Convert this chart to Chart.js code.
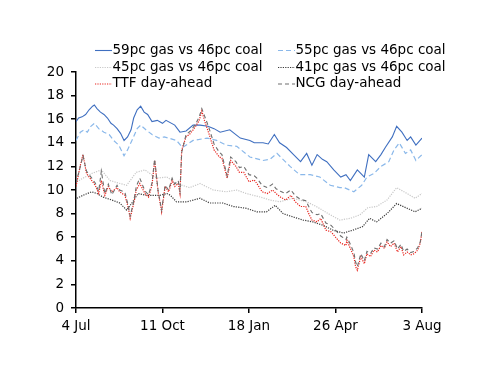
<!DOCTYPE html>
<html>
<head>
<meta charset="utf-8">
<script src="https://cdn.jsdelivr.net/npm/chart.js@4/dist/chart.umd.min.js"></script>
<style>
  html, body { margin: 0; padding: 0; background: #fff; }
  #wrap { position: relative; width: 500px; height: 386px; }
</style>
</head>
<body>
<div id="wrap"><canvas id="c" width="500" height="386"></canvas></div>
<script>
// x values are days since 4 Jul
const tickLabels = ["4 Jul", "11 Oct", "18 Jan", "26 Apr", "3 Aug"];
const seriesNames = ["59pc gas vs 46pc coal", "55pc gas vs 46pc coal", "45pc gas vs 46pc coal", "41pc gas vs 46pc coal", "TTF day-ahead", "NCG day-ahead"];

const days59 = [0,3,7,11,15,19,21,24,28,32,36,40,43,47,51,55,59,63,66,70,74,78,82,87,93,99,103,113,119,126,134,142,151,158,165,176,188,199,204,214,220,227,233,241,249,257,264,270,276,282,287,295,303,309,314,322,330,335,343,349,354,362,367,373,379,383,389,396];
const gas59 =  [15.8,16.1,16.2,16.4,16.8,17.1,17.2,16.9,16.6,16.4,16.1,15.65,15.5,15.2,14.8,14.2,14.5,15.1,16.1,16.8,17.1,16.6,16.4,15.8,15.9,15.65,15.9,15.5,14.9,15.0,15.5,15.5,15.4,15.2,14.9,15.1,14.4,14.2,14.0,14.0,13.9,14.7,14.0,13.6,13.0,12.4,13.1,12.1,13.0,12.6,12.4,11.7,11.1,11.3,10.8,11.7,11.1,13.0,12.4,13.0,13.6,14.5,15.4,14.9,14.2,14.5,13.8,14.4];

const days55 = [0,5,9,13,17,21,26,32,38,43,49,55,59,64,70,74,80,87,95,101,115,122,134,150,161,172,184,199,214,222,230,241,245,256,268,279,291,302,307,318,327,333,341,349,358,364,370,377,383,389,396];
const gas55 =  [14.2,14.9,15.1,14.9,15.4,15.65,15.2,14.9,14.7,14.2,13.8,12.9,13.4,14.2,15.2,15.5,15.1,14.7,14.4,14.5,14.2,13.6,14.2,14.4,14.2,13.8,13.7,12.8,12.5,12.6,13.1,12.3,12.0,11.3,11.3,11.1,10.4,10.2,10.2,9.85,10.4,11.1,11.4,12.0,12.4,13.4,14.0,13.1,13.4,12.5,13.0];

const days45 = [1,8,18,29,39,48,58,69,79,92,104,115,130,142,157,172,184,195,211,222,233,248,264,275,291,302,314,325,334,344,356,367,379,388,396];
const gas45 =  [10.7,11.0,11.4,11.7,10.8,10.6,10.4,11.5,11.7,11.0,11.1,10.55,10.2,10.55,10.0,9.85,10.0,9.7,9.4,9.15,9.0,9.3,9.0,8.6,7.9,7.45,7.6,7.9,8.5,8.6,9.15,10.2,9.7,9.3,9.7];

const days41 = [1,8,18,24,31,41,50,58,65,71,81,96,104,108,115,127,142,153,168,180,195,207,218,228,237,245,260,271,283,294,306,317,328,336,344,356,367,379,388,396];
const gas41 =  [9.3,9.55,9.85,9.7,9.4,9.15,8.9,8.3,9.0,9.7,9.55,9.55,9.7,9.55,9.0,9.0,9.3,8.9,8.9,8.6,8.45,8.15,8.15,8.7,8.0,7.8,7.45,7.3,7.0,6.6,6.35,6.6,6.9,7.6,7.3,8.0,8.85,8.45,8.15,8.45];

const daysHub = [0,5,8,12,18,22,26,29,33,37,41,47,50,56,60,62,66,69,73,79,83,87,90,94,98,102,106,110,113,117,119,121,126,131,137,141,144,147,152,158,164,167,173,177,183,187,192,198,204,207,213,219,225,229,234,240,246,251,257,263,267,270,276,280,286,292,297,303,309,310,314,318,320,322,326,330,333,337,341,345,349,353,356,360,364,368,372,375,379,383,387,391,394,396];
const ttf = [10.3,12.1,13.0,11.4,10.8,10.4,9.7,10.8,9.55,10.3,9.85,10.2,9.85,9.55,8.45,7.6,8.85,10.0,10.55,9.7,9.4,10.4,12.5,9.85,8.15,10.3,9.85,10.8,10.3,10.55,9.7,13.4,14.5,14.8,15.4,15.9,16.7,15.9,14.8,13.4,12.8,12.7,11.0,12.5,12.0,11.5,11.5,10.7,10.85,10.55,9.85,9.7,10.0,9.7,9.4,9.15,9.55,9.0,8.6,8.6,7.9,7.45,7.3,7.6,6.6,6.45,6.0,5.5,5.3,5.75,5.05,4.35,3.5,3.2,4.35,3.75,4.6,4.35,4.9,4.75,5.3,5.05,5.6,5.2,5.5,4.75,5.2,4.5,4.75,4.5,4.6,4.9,5.5,6.45];
const ncg = [10.6,12.0,12.9,11.6,11.0,10.6,9.9,11.6,9.7,10.5,9.6,10.4,10.0,9.8,8.6,7.8,9.0,10.3,11.0,9.9,9.6,10.6,12.6,9.9,8.3,10.4,10.0,11.0,10.5,10.8,9.9,13.2,14.7,15.0,15.6,16.2,16.9,16.3,15.3,13.9,13.2,13.0,11.2,12.8,12.4,11.9,12.0,11.3,11.2,11.0,10.4,10.2,10.5,10.1,9.9,9.7,10.0,9.5,9.2,9.1,8.5,8.1,7.9,8.0,7.2,7.0,6.6,6.1,5.8,6.0,5.4,4.7,3.9,3.5,4.6,4.0,4.8,4.6,5.1,5.0,5.5,5.2,5.8,5.5,5.7,5.0,5.4,4.8,5.0,4.7,4.8,5.1,5.6,6.5];

function pts(xs, ys) { return xs.map((x, i) => ({ x: x, y: ys[i] })); }

const styles = [
  { color: '#3f6fc0', dash: [], width: 1.1 },
  { color: '#8ab8ea', dash: [5, 3], width: 1.2 },
  { color: '#c8c8c8', dash: [1.2, 1.2], width: 1.2 },
  { color: '#3a3a3a', dash: [1.2, 1.2], width: 1.2 },
  { color: '#e8231c', dash: [1.2, 1.2], width: 1.2 },
  { color: '#6e6e6e', dash: [4, 3], width: 1.1 }
];

const dataSets = [pts(days59, gas59), pts(days55, gas55), pts(days45, gas45), pts(days41, gas41), pts(daysHub, ttf), pts(daysHub, ncg)];
const drawOrder = [6, 5, 4, 3, 2, 1];

const legendPlugin = {
  id: 'fixedLegend',
  afterDraw(chart) {
    const ctx = chart.ctx;
    ctx.save();
    ctx.font = '13.5px "DejaVu Sans"';
    ctx.textBaseline = 'middle';
    ctx.fillStyle = '#000';
    const cols = [95, 278];
    const rows = [50, 67, 83.5];
    seriesNames.forEach((name, i) => {
      const cx = cols[i % 2], cy = rows[Math.floor(i / 2)];
      const s = styles[i];
      ctx.beginPath();
      ctx.strokeStyle = s.color;
      ctx.lineWidth = s.width;
      ctx.setLineDash(s.dash);
      ctx.moveTo(cx, cy + 0.5);
      ctx.lineTo(cx + 17, cy + 0.5);
      ctx.stroke();
      ctx.setLineDash([]);
      ctx.fillText(name, cx + 17.5, cy);
    });
    ctx.restore();
  }
};

new Chart(document.getElementById('c'), {
  type: 'line',
  data: {
    datasets: dataSets.map((d, i) => ({
      label: seriesNames[i],
      data: d,
      borderColor: styles[i].color,
      borderWidth: styles[i].width,
      borderDash: styles[i].dash,
      pointRadius: 0,
      tension: 0,
      fill: false,
      order: drawOrder[i]
    }))
  },
  options: {
    responsive: false,
    animation: false,
    events: [],
    layout: { padding: { top: 72, left: 0, right: 78, bottom: 0 } },
    plugins: { legend: { display: false }, tooltip: { enabled: false } },
    scales: {
      x: {
        type: 'linear',
        min: 0, max: 396,
        afterFit(scale) { scale.height = 78; },
        afterBuildTicks(scale) { scale.ticks = tickLabels.map((t, i) => ({ value: i * 99 })); },
        ticks: {
          autoSkip: false, maxRotation: 0, padding: 5,
          color: '#000', font: { family: 'DejaVu Sans', size: 13.5 },
          callback: (v) => tickLabels[Math.round(v / 99)]
        },
        grid: { drawOnChartArea: false, drawTicks: true, tickLength: 5, color: '#000', lineWidth: 1.5 },
        border: { color: '#000', width: 1.5 }
      },
      y: {
        min: 0, max: 20,
        afterFit(scale) { scale.width = 76; },
        ticks: {
          stepSize: 2, padding: 7, color: '#000',
          font: { family: 'DejaVu Sans', size: 13.5 }
        },
        grid: { drawOnChartArea: false, drawTicks: true, tickLength: 5, color: '#000', lineWidth: 1.5 },
        border: { color: '#000', width: 1.5 }
      }
    }
  },
  plugins: [legendPlugin]
});
</script>
</body>
</html>
